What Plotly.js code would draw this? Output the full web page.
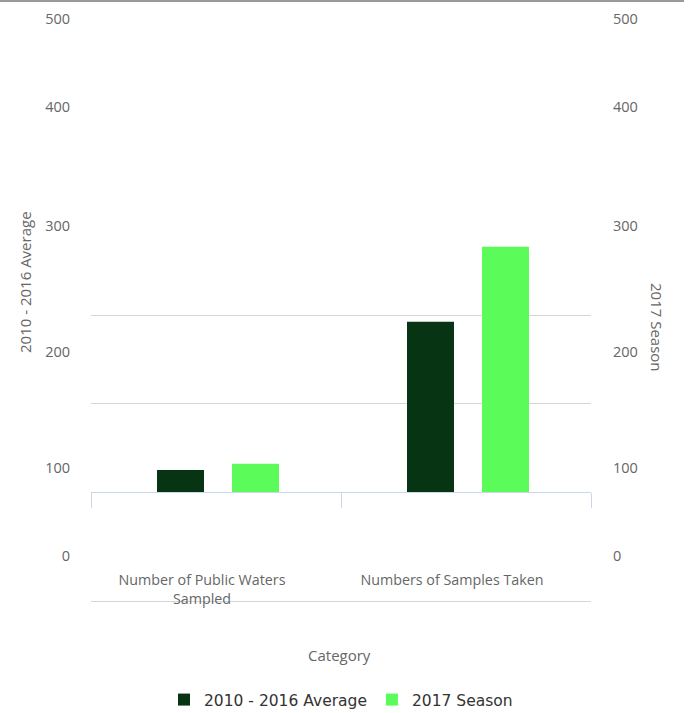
<!DOCTYPE html>
<html>
<head>
<meta charset="utf-8">
<script src="https://cdn.plot.ly/plotly-3.0.1.min.js"></script>
<style>
html,body{margin:0;padding:0;background:#fff;}
#topline{position:absolute;left:0;top:0;width:684px;height:2px;background:#9a9a9a;z-index:5;}
#chart{width:690px;height:713px;}
</style>
</head>
<body>
<div id="topline"></div>
<div id="chart"></div>
<script>
// ---- data ----
const categories = ["Number of Public Waters<br>Sampled", "Numbers of Samples Taken"];
const avgName = "2010 - 2016 Average";
const seasonName = "2017 Season";
const avgValues = [25, 193];
const seasonValues = [32, 278];
const tickLabels = ["0", "100", "200", "300", "400", "500"];
const gridValues = [100, 200];

// ---- layout helpers (the source chart's tick labels sit off their gridlines) ----
const pxPerUnit = 0.8825;          // vertical scale of the value axis
const plotTop = 10, plotBottom = 601, zeroPx = 492;
const plotH = plotBottom - plotTop;
const yMin = -(plotBottom - zeroPx) / pxPerUnit;
const yMax = (zeroPx - plotTop) / pxPerUnit;
const labelPixelY = [556, 468, 352, 226, 107, 19];
const labelPos = labelPixelY.map(p => (zeroPx - p) / pxPerUnit);
const zeroPaper = (plotBottom - zeroPx) / plotH;
const catRange = [-0.5, 1.5];

const tickFont = {family: "Open Sans", size: 14.5, color: "#666666"};
const titleFont = {family: "Open Sans", size: 15, color: "#666666"};

const traces = [
  {type: "bar", name: avgName, x: categories, y: avgValues, xaxis: "x", yaxis: "y",
   width: 0.188, offset: -0.236,
   marker: {color: "#073412"}, hoverinfo: "skip"},
  {type: "bar", name: seasonName, x: categories, y: seasonValues, xaxis: "x2", yaxis: "y2",
   width: 0.188, offset: 0.064,
   marker: {color: "#5bfb5a"}, hoverinfo: "skip"}
];

const layout = {
  width: 690, height: 713,
  margin: {l: 91, r: 99, t: plotTop, b: 713 - plotBottom, pad: 0, autoexpand: false},
  paper_bgcolor: "#ffffff", plot_bgcolor: "#ffffff",
  showlegend: true,
  legend: {orientation: "h", x: 0.5, xanchor: "center", y: (plotBottom - 700) / plotH, yanchor: "middle",
           font: {family: "DejaVu Sans", size: 15.5, color: "#333333"}},
  xaxis: {type: "category", range: catRange, anchor: "free", position: zeroPaper,
          showline: true, linecolor: "#ccd6eb", linewidth: 1,
          ticks: "outside", ticklen: 15, tickcolor: "#ccd6eb", tickwidth: 1,
          tickson: "boundaries", showgrid: false, zeroline: false,
          tickfont: {family: "Open Sans", size: 14.3, color: "#666666"},
          ticklabelstandoff: 75, ticklabelshift: -14},
  xaxis2: {type: "category", range: catRange, overlaying: "x", anchor: "y2", side: "bottom",
           showline: true, linecolor: "#d6d6d6", linewidth: 1,
           showticklabels: false, ticks: "", showgrid: false, zeroline: false},
  yaxis: {domain: [0, 1], range: [yMin, yMax], anchor: "x",
          tickmode: "array", tickvals: labelPos, ticktext: tickLabels,
          ticks: "", ticklabelstandoff: 20, tickfont: tickFont,
          showgrid: false, zeroline: false, showline: false,
          minor: {tickmode: "array", tickvals: gridValues, showgrid: true,
                  gridcolor: "#d6d6d6", gridwidth: 1, ticks: ""}},
  yaxis2: {overlaying: "y", side: "right", anchor: "x2", range: [yMin, yMax],
           tickmode: "array", tickvals: labelPos, ticktext: tickLabels,
           ticks: "", ticklabelstandoff: 21, tickfont: tickFont,
           showgrid: false, zeroline: false, showline: false},
  annotations: [
    {text: avgName, xref: "paper", yref: "paper", x: (25 - 91) / 500, y: (plotBottom - 282) / plotH,
     xanchor: "center", yanchor: "middle", textangle: -90, showarrow: false, font: titleFont},
    {text: seasonName, xref: "paper", yref: "paper", x: (657 - 91) / 500, y: (plotBottom - 327) / plotH,
     xanchor: "center", yanchor: "middle", textangle: 90, showarrow: false, font: titleFont},
    {text: "Category", xref: "paper", yref: "paper", x: (339 - 91) / 500, y: (plotBottom - 655) / plotH,
     xanchor: "center", yanchor: "middle", showarrow: false, font: titleFont}
  ]
};

Plotly.newPlot("chart", traces, layout, {displayModeBar: false, staticPlot: true});
</script>
</body>
</html>
